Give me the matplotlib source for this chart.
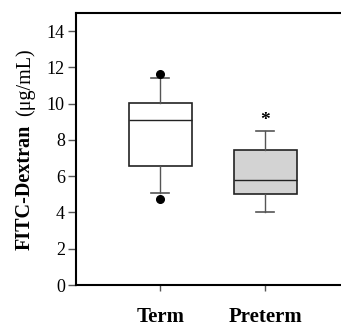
import matplotlib
matplotlib.use("Agg")
import matplotlib.pyplot as plt

# box summary values
groups = ["Term", "Preterm"]
q1 = [6.55, 5.0]
medians = [9.1, 5.8]
q3 = [10.02, 7.45]
whis_lo = [5.05, 4.05]
whis_hi = [11.4, 8.5]
fliers = [[4.75, 11.65], []]
box_fill = ["white", "#d3d3d3"]
star_y = 9.05

plt.rcParams["font.family"] = ["Liberation Serif", "DejaVu Serif"]

fig = plt.figure(figsize=(3.41, 3.26), dpi=100)
ax = fig.add_axes([76 / 341, 41 / 326, 1 - 76 / 341, 272 / 326])

stats = []
for i, g in enumerate(groups):
    stats.append({"label": g, "q1": q1[i], "med": medians[i], "q3": q3[i],
                  "whislo": whis_lo[i], "whishi": whis_hi[i], "fliers": fliers[i]})

bp = ax.bxp(stats, positions=[1, 2], widths=0.6, patch_artist=True,
            showfliers=True,
            medianprops=dict(color="#222222", linewidth=1.0),
            whiskerprops=dict(color="#555555", linewidth=1.0),
            capprops=dict(color="#555555", linewidth=1.2),
            capwidths=0.17,
            flierprops=dict(marker="o", markerfacecolor="black",
                            markeredgecolor="black", markersize=5.5))
for patch, c in zip(bp["boxes"], box_fill):
    patch.set_facecolor(c)
    patch.set_edgecolor("#222222")
    patch.set_linewidth(1.2)

ax.text(2, star_y, "*", ha="center", va="center", fontsize=14, fontweight="bold")

ax.set_xlim(0.2, 2.72)
ax.set_ylim(0, 15)
ax.set_yticks(range(0, 15, 2))
ax.set_xticks([1, 2])
ax.set_xticklabels(groups, fontweight="bold", fontsize=15)
ax.tick_params(axis="y", labelsize=13, length=6, width=1, color="#555555", pad=2)
ax.tick_params(axis="x", length=4.5, width=1, color="#555555", pad=11)
ax.spines["right"].set_visible(False)
for s in ["left", "top", "bottom"]:
    ax.spines[s].set_linewidth(1.5)

# y label: bold name, regular units
fig.text(25 / 341, 76 / 326, "FITC-Dextran", rotation=90, ha="center",
         va="bottom", fontsize=14.5, fontweight="bold")
fig.text(25 / 341, 210 / 326, "(μg/mL)", rotation=90, ha="center",
         va="bottom", fontsize=14.5)

fig.savefig("out.png", dpi=100)
